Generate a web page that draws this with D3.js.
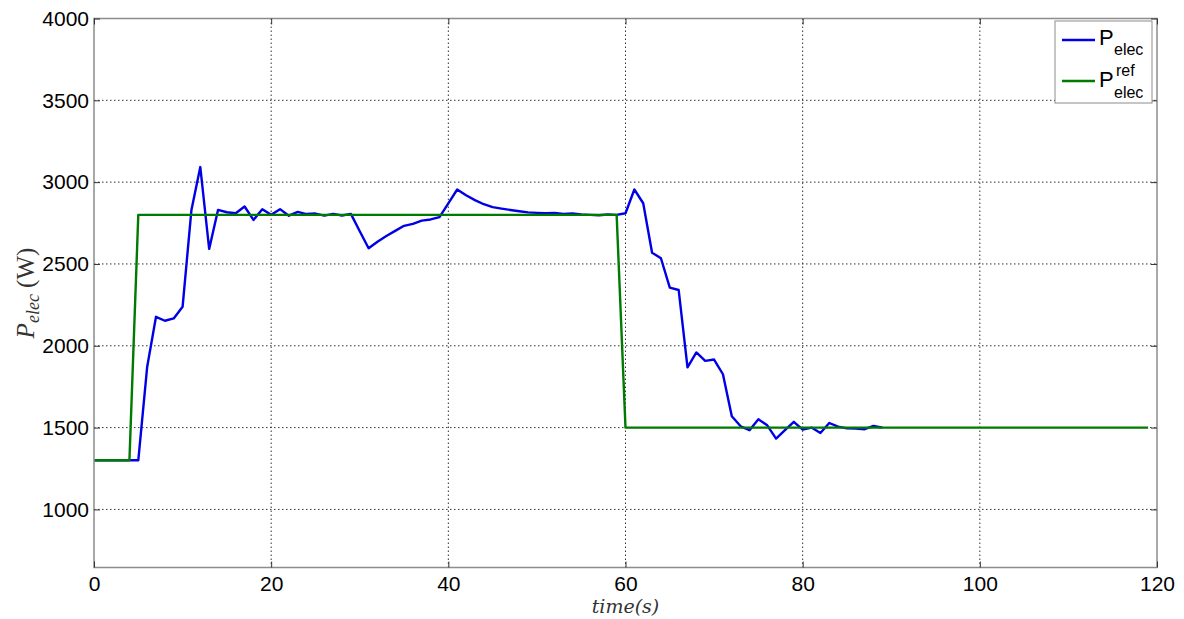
<!DOCTYPE html>
<html><head><meta charset="utf-8">
<script src="https://cdn.jsdelivr.net/npm/d3@7"></script>
<style>
html,body{margin:0;padding:0;background:#fff;}
svg{display:block;}
</style></head>
<body>
<svg id="chart" width="1184" height="619"></svg>
<script>
// ---- data ----
const elecTime = d3.range(0, 90);
const elecValues = [1300,1300,1300,1300,1300,1300,1870,2177,2153,2167,
  2238,2830,3092,2592,2830,2816,2810,2851,2769,2835,
  2800,2835,2795,2818,2805,2808,2795,2806,2796,2806,
  2700,2596,2636,2671,2702,2733,2745,2765,2772,2786,
  2870,2955,2920,2890,2865,2847,2838,2830,2822,2815,
  2812,2810,2812,2806,2808,2803,2800,2798,2802,2800,
  2810,2955,2871,2569,2535,2355,2341,1868,1959,1908,
  1916,1826,1569,1508,1484,1551,1514,1433,1484,1535,
  1488,1500,1467,1528,1506,1495,1494,1490,1510,1500];
const refTime = [0,4,5,59,60,119];
const refValues = [1300,1300,2800,2800,1500,1500];
const xTicks = [0,20,40,60,80,100,120];
const yTicks = [1000,1500,2000,2500,3000,3500,4000];

// ---- layout ----
const svg = d3.select("#chart");
const L = 94, R = 1157, T = 18.5, B = 567.5;
const x = d3.scaleLinear().domain([0,120]).range([L,R]);
const y = d3.scaleLinear().domain([645,4000]).range([B,T]);
const fam = "'Liberation Sans', Arial, sans-serif";

// grid
const g = svg.append("g");
g.selectAll(".vg").data(xTicks.filter(d=>d>0 && d<120)).enter().append("line")
  .attr("x1",d=>x(d)).attr("x2",d=>x(d)).attr("y1",T).attr("y2",B)
  .attr("stroke","#333").attr("stroke-width",1).attr("stroke-dasharray","1.5,2.5");
g.selectAll(".hg").data(yTicks).enter().append("line")
  .attr("x1",L).attr("x2",R).attr("y1",d=>y(d)).attr("y2",d=>y(d))
  .attr("stroke","#333").attr("stroke-width",1).attr("stroke-dasharray","1.5,2.5");

// lines
const line = d3.line().x(d=>x(d[0])).y(d=>y(d[1]));
svg.append("path").datum(elecTime.map((t,i)=>[t,elecValues[i]]))
  .attr("d",line).attr("fill","none").attr("stroke","#0000e6").attr("stroke-width",2.4)
  .attr("stroke-linejoin","round");
svg.append("path").datum(refTime.map((t,i)=>[t,refValues[i]]))
  .attr("d",line).attr("fill","none").attr("stroke","#007a00").attr("stroke-width",2.4)
  .attr("stroke-linejoin","round");

// axes box
svg.append("rect").attr("x",L).attr("y",T).attr("width",R-L).attr("height",B-T)
  .attr("fill","none").attr("stroke","#8c8c8c").attr("stroke-width",1.5);

// axes with inner ticks
const fmt = d3.format("d");
const xAxisB = d3.axisBottom(x).tickValues(xTicks).tickFormat(fmt).tickSizeInner(-6).tickSizeOuter(0).tickPadding(9);
const gx = svg.append("g").attr("transform",`translate(0,${B})`).call(xAxisB);
gx.select(".domain").remove();
gx.selectAll("line").attr("stroke","#333");
gx.selectAll("text").attr("font-family",fam).attr("font-size",21).attr("fill","#000");
const xAxisT = d3.axisTop(x).tickValues(xTicks).tickSizeInner(-6).tickSizeOuter(0).tickFormat("");
const gxt = svg.append("g").attr("transform",`translate(0,${T})`).call(xAxisT);
gxt.select(".domain").remove(); gxt.selectAll("line").attr("stroke","#333");

const yAxisL = d3.axisLeft(y).tickValues(yTicks).tickFormat(fmt).tickSizeInner(-6).tickSizeOuter(0).tickPadding(5);
const gy = svg.append("g").attr("transform",`translate(${L},0)`).call(yAxisL);
gy.select(".domain").remove();
gy.selectAll("line").attr("stroke","#333");
gy.selectAll("text").attr("font-family",fam).attr("font-size",21).attr("fill","#000");
const yAxisR = d3.axisRight(y).tickValues(yTicks).tickSizeInner(-6).tickSizeOuter(0).tickFormat("");
const gyr = svg.append("g").attr("transform",`translate(${R},0)`).call(yAxisR);
gyr.select(".domain").remove(); gyr.selectAll("line").attr("stroke","#333");

// axis labels
svg.append("text").attr("x",(L+R)/2).attr("y",613).attr("text-anchor","middle")
  .attr("font-family","'DejaVu Serif','Liberation Serif',serif").attr("font-style","italic")
  .attr("font-size",19).attr("fill","#333").text("time(s)");
const yl = svg.append("text").attr("transform",`translate(34,${(T+B)/2}) rotate(-90)`)
  .attr("text-anchor","middle").attr("font-family","'Liberation Serif','DejaVu Serif',serif")
  .attr("font-size",25).attr("fill","#333");
yl.append("tspan").attr("font-style","italic").text("P");
yl.append("tspan").attr("font-style","italic").attr("font-size",18).attr("dy",5).text("elec");
yl.append("tspan").attr("dy",-5).text(" (W)");

// legend
const lg = svg.append("g");
lg.append("rect").attr("x",1055).attr("y",21).attr("width",97).attr("height",82)
  .attr("fill","#fff").attr("stroke","#8c8c8c").attr("stroke-width",1);
lg.append("line").attr("x1",1062).attr("x2",1095).attr("y1",40).attr("y2",40)
  .attr("stroke","#0000e6").attr("stroke-width",2.4);
lg.append("line").attr("x1",1062).attr("x2",1095).attr("y1",81).attr("y2",81)
  .attr("stroke","#007a00").attr("stroke-width",2.4);
lg.append("text").attr("x",1099).attr("y",44.5).attr("font-family",fam).attr("font-size",22).text("P");
lg.append("text").attr("x",1114).attr("y",54.5).attr("font-family",fam).attr("font-size",16).text("elec");
lg.append("text").attr("x",1099).attr("y",86.5).attr("font-family",fam).attr("font-size",22).text("P");
lg.append("text").attr("x",1116).attr("y",76).attr("font-family",fam).attr("font-size",16).text("ref");
lg.append("text").attr("x",1114).attr("y",98).attr("font-family",fam).attr("font-size",16).text("elec");
</script>
</body></html>
